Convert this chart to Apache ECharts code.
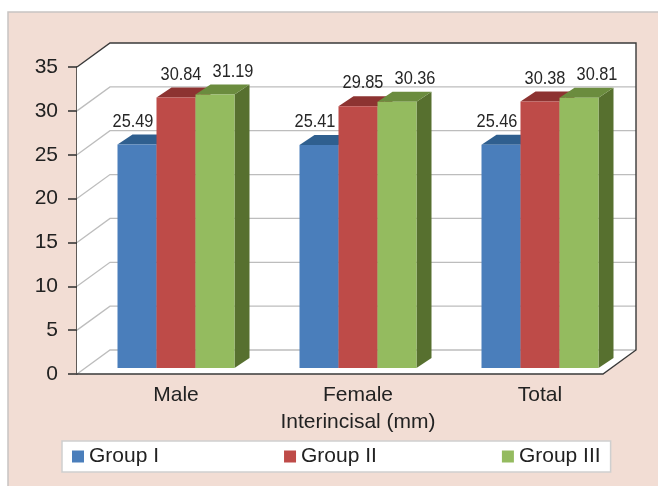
<!DOCTYPE html>
<html>
<head>
<meta charset="utf-8">
<script src="https://cdn.jsdelivr.net/npm/echarts@6/dist/echarts.min.js"></script>
<style>
  html, body { margin: 0; padding: 0; background: #ffffff; }
  #chart { width: 658px; height: 486px; }
</style>
</head>
<body>
<div id="chart"></div>
<script>
// Interincisal distance (mm) by sex, for three groups
const categories = ['Male', 'Female', 'Total'];
const groupNames = ['Group I', 'Group II', 'Group III'];
const groupI = [25.49, 25.41, 25.46];
const groupII = [30.84, 29.85, 30.38];
const groupIII = [31.19, 30.36, 30.81];
const yTicks = [0, 5, 10, 15, 20, 25, 30, 35];
const axisTitle = 'Interincisal (mm)';

const groupValues = [groupI, groupII, groupIII];

// face colours: front, top, right side
const palette = [
  { front: '#4a7ebb', top: '#2f5f8f', side: '#2c5783' },
  { front: '#be4b48', top: '#8d3331', side: '#85302e' },
  { front: '#94bb5f', top: '#6b8c3e', side: '#57702f' }
];

const FONT = '"Liberation Sans", Arial, sans-serif';

// oblique depth of the chart box and of each bar (pixels)
const WALL_DX = 33, WALL_DY = 24;
const BAR_DX = 15, BAR_DY = 10;
const labelShift = [-4, 5, 18];

const chart = echarts.init(document.getElementById('chart'), null, { renderer: 'canvas' });

// walls, floor, gridlines and outline of the 3D box
function renderFrame(params, api) {
  const cs = params.coordSys;
  const x0 = cs.x, x1 = cs.x + cs.width;
  const yMin = api.coord([0, yTicks[0]])[1];
  const yMax = api.coord([0, yTicks[yTicks.length - 1]])[1];
  const children = [];
  children.push({
    type: 'polygon',
    shape: { points: [[x0, yMax], [x0 + WALL_DX, yMax - WALL_DY], [x1 + WALL_DX, yMax - WALL_DY],
                      [x1 + WALL_DX, yMin - WALL_DY], [x1, yMin], [x0, yMin]] },
    style: { fill: '#ffffff' }
  });
  yTicks.forEach(function (t, i) {
    if (i === yTicks.length - 1) return;
    const y = api.coord([0, t])[1];
    children.push({
      type: 'polyline',
      shape: { points: [[x0, y], [x0 + WALL_DX, y - WALL_DY], [x1 + WALL_DX, y - WALL_DY]] },
      style: { stroke: '#bdbdbd', lineWidth: 1.3, fill: null }
    });
  });
  children.push({
    type: 'polyline',
    shape: { points: [[x0, yMax], [x0 + WALL_DX, yMax - WALL_DY], [x1 + WALL_DX, yMax - WALL_DY],
                      [x1 + WALL_DX, yMin - WALL_DY], [x1, yMin], [x0, yMin]] },
    style: { stroke: '#3a3a3a', lineWidth: 1.4, fill: null }
  });
  return { type: 'group', children: children };
}

function makeBarRenderer(si) {
  return function (params, api) {
    const ci = api.value(0), v = api.value(1);
    const base = api.coord([ci, 0]);
    const topPt = api.coord([ci, v]);
    const band = api.size([1, 0])[0];
    const w = band * 0.2143;
    const x0 = base[0] - 1.5 * w + si * w;
    const x1 = x0 + w;
    const yb = base[1], yt = topPt[1];
    const c = palette[si];
    const lx = (x0 + x1) / 2 + labelShift[si];
    const ly = yt - 23;
    return {
      type: 'group',
      children: [
        { type: 'polygon', shape: { points: [[x1, yb], [x1 + BAR_DX, yb - BAR_DY], [x1 + BAR_DX, yt - BAR_DY], [x1, yt]] },
          style: { fill: c.side } },
        { type: 'polygon', shape: { points: [[x0, yt], [x1, yt], [x1 + BAR_DX, yt - BAR_DY], [x0 + BAR_DX, yt - BAR_DY]] },
          style: { fill: c.top } },
        { type: 'rect', shape: { x: x0, y: yt, width: w, height: yb - yt }, style: { fill: c.front } },
        { type: 'text', x: lx, y: ly, scaleX: 0.86, originX: 0, originY: 0,
          style: { text: v.toFixed(2), x: 0, y: 0, align: 'center', verticalAlign: 'middle',
                   fill: '#262626', font: '19px ' + FONT } }
      ]
    };
  };
}

const barSeries = groupNames.map(function (name, si) {
  return {
    name: name,
    type: 'custom',
    xAxisIndex: 1,
    yAxisIndex: 1,
    z: 3 + si,
    itemStyle: { color: palette[si].front },
    renderItem: makeBarRenderer(si),
    data: categories.map(function (c, i) { return [i, groupValues[si][i]]; })
  };
});

const option = {
  backgroundColor: '#ffffff',
  animation: false,
  graphic: {
    elements: [{
      type: 'rect', z: -10, silent: true,
      shape: { x: 8, y: 12, width: 700, height: 500 },
      style: { fill: '#f2ddd4', stroke: '#c8c4c2', lineWidth: 1.5 }
    }]
  },
  legend: {
    data: groupNames,
    left: 62, top: 441,
    backgroundColor: '#ffffff',
    borderColor: '#cfcfcf', borderWidth: 1.5,
    padding: [5, 10, 5, 10],
    itemGap: 125,
    itemWidth: 12, itemHeight: 12,
    icon: 'rect',
    textStyle: { fontSize: 21, color: '#222222', fontFamily: FONT }
  },
  grid: [
    { left: 77, right: 55, top: 67, bottom: 112 },
    { left: 85, right: 27, top: 61, bottom: 118 }
  ],
  xAxis: [
    { type: 'category', gridIndex: 0, data: categories, show: false },
    { type: 'category', gridIndex: 1, data: categories,
      axisLine: { show: false }, axisTick: { show: false },
      axisLabel: { fontSize: 21, color: '#222222', fontFamily: FONT, margin: 17 },
      name: axisTitle, nameLocation: 'middle', nameGap: 44,
      nameTextStyle: { fontSize: 21, color: '#222222', fontFamily: FONT } }
  ],
  yAxis: [
    { type: 'value', gridIndex: 0, min: yTicks[0], max: yTicks[yTicks.length - 1], interval: 5,
      axisLine: { show: true, lineStyle: { color: '#2e2e2e', width: 1.5 } },
      axisTick: { show: true, length: 9, lineStyle: { color: '#2e2e2e', width: 1.5 } },
      axisLabel: { fontSize: 21, color: '#222222', fontFamily: FONT, margin: 19 },
      splitLine: { show: false } },
    { type: 'value', gridIndex: 1, min: yTicks[0], max: yTicks[yTicks.length - 1], interval: 5, show: false,
      splitLine: { show: false } }
  ],
  series: [
    { type: 'custom', xAxisIndex: 0, yAxisIndex: 0, z: 1, silent: true,
      renderItem: renderFrame, data: [[0, 0]] }
  ].concat(barSeries)
};

chart.setOption(option);
</script>
</body>
</html>
